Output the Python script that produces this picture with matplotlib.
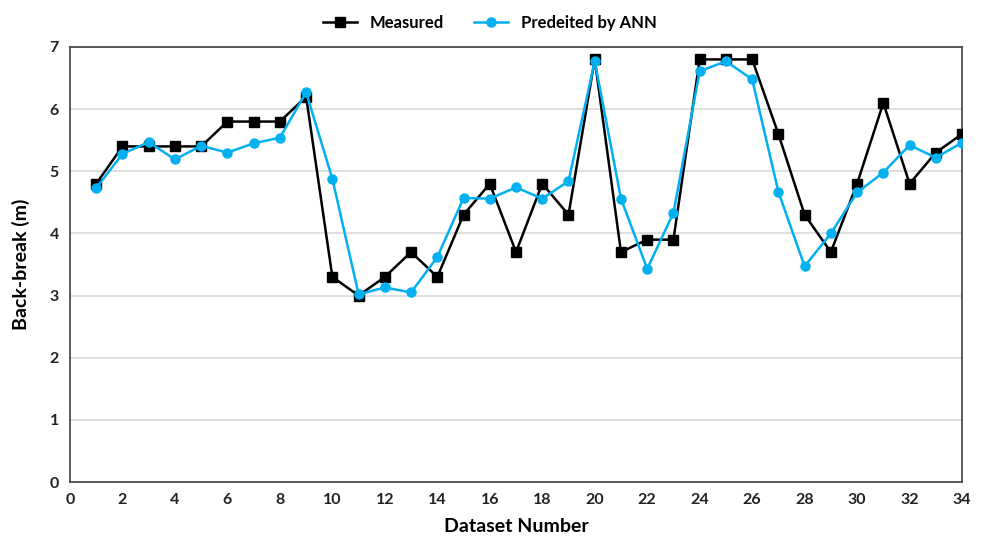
import numpy as np
import matplotlib.pyplot as plt

dataset = list(range(1, 35))
measured = [4.8, 5.4, 5.4, 5.4, 5.4, 5.8, 5.8, 5.8, 6.2, 3.3,
            3.0, 3.3, 3.7, 3.3, 4.3, 4.8, 3.7, 4.8, 4.3, 6.8,
            3.7, 3.9, 3.9, 6.8, 6.8, 6.8, 5.6, 4.3, 3.7, 4.8,
            6.1, 4.8, 5.3, 5.6]
predicted = [4.73, 5.28, 5.47, 5.19, 5.41, 5.30, 5.45, 5.54, 6.27, 4.88,
             3.02, 3.13, 3.05, 3.62, 4.57, 4.56, 4.74, 4.56, 4.84, 6.77,
             4.56, 3.43, 4.33, 6.61, 6.77, 6.48, 4.67, 3.47, 4.00, 4.66,
             4.98, 5.42, 5.22, 5.46]

plt.rcParams['font.family'] = ['Lato', 'DejaVu Sans']
plt.rcParams['font.weight'] = 'bold'

fig = plt.figure(figsize=(9.86, 5.42), dpi=100)
ax = fig.add_axes([0.071, 0.1107, 0.9047, 0.8026])

ax.plot(dataset, measured, color='black', marker='s', markersize=6.5,
        linewidth=1.8, label='Measured', zorder=3)
ax.plot(dataset, predicted, color='#00B0F0', marker='o', markersize=6.5,
        linewidth=1.8, label='Predeited by ANN', zorder=4)

ax.set_xlim(0, 34)
ax.set_ylim(0, 7)
ax.set_xticks(range(0, 35, 2))
ax.set_yticks(range(0, 8))
ax.grid(axis='y', color='#d9d9d9', linewidth=1.2)
ax.set_axisbelow(True)
ax.tick_params(length=0, labelsize=11.5, pad=8)
for lab in ax.get_xticklabels() + ax.get_yticklabels():
    lab.set_fontweight('bold')
    lab.set_color('#222222')
for s in ax.spines.values():
    s.set_color('#404040')
    s.set_linewidth(1.2)

ax.set_xlabel('Dataset Number', fontsize=14, fontweight='bold', labelpad=8)
ax.set_ylabel('Back-break (m)', fontsize=14, fontweight='bold', labelpad=14)

fig.legend(loc='upper center', bbox_to_anchor=(0.497, 1.0), ncol=2,
           frameon=False, handlelength=2.0, columnspacing=1.8,
           prop={'weight': 'bold', 'size': 12})

fig.savefig('out.png', dpi=100)
